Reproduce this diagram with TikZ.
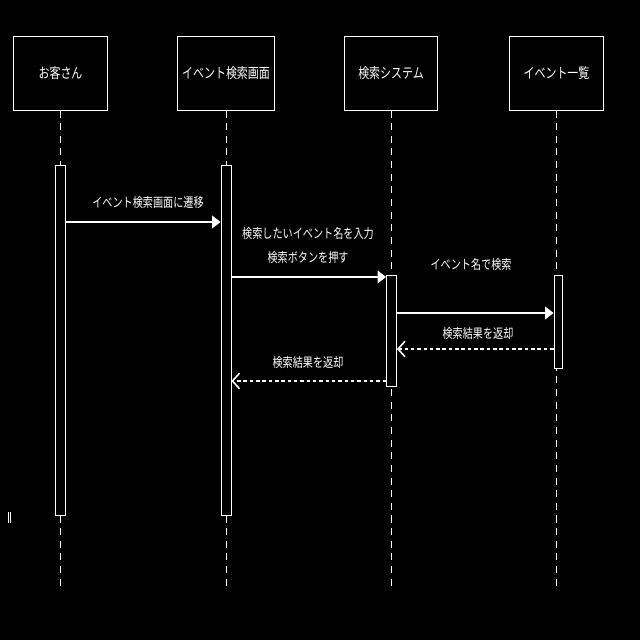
\documentclass[tikz,border=0pt]{standalone}
\usepackage{fontspec}
\usepackage{graphicx}
\newfontfamily\cjk{Noto Sans CJK JP}
\usetikzlibrary{arrows.meta}
\newcommand{\tall}[1]{\scalebox{1}[1.3]{#1}}

\begin{document}
\begin{tikzpicture}[x=0.025cm,y=0.025cm,
    actor/.style={draw=white,line width=0.7pt,minimum width=2.325cm,minimum height=1.825cm,text=white,font=\cjk\fontsize{7.8}{9}\selectfont},
    life/.style={draw=white,line width=0.6pt,dash pattern=on 5pt off 4pt},
    act/.style={draw=white,fill=black,line width=0.6pt,minimum width=0.25cm,inner sep=0pt},
    msg/.style={draw=white,line width=1.1pt,-{Triangle[length=6pt,width=9pt]}},
    reply/.style={draw=white,line width=1.1pt,dash pattern=on 2.5pt off 2pt,-{Straight Barb[length=5pt,width=11pt]}},
    lbl/.style={text=white,font=\cjk\fontsize{7.2}{17.5}\selectfont,align=center,inner sep=0pt}]
    \fill[black] (0,0) rectangle (640,640);
    % Actors
    \node[actor] (cust) at (60.5,566.5) {\tall{お客さん}};
    \node[actor] (screen) at (226,566.5) {\tall{イベント検索画面}};
    \node[actor] (sys) at (391,566.5) {\tall{検索システム}};
    \node[actor] (list) at (556.5,566.5) {\tall{イベント一覧}};
    % Lifelines
    \coordinate (end) at (0,52);
    \foreach \a in {cust,screen,sys,list}
        \draw[life] (\a.south) -- (\a.south |- end);
    % Activations
    \node[act,minimum height=8.75cm] (act1) at (60,300) {};
    \node[act,minimum height=8.75cm] (act2) at (226,300) {};
    \node[act,minimum height=2.775cm] (act3) at (391.5,309.5) {};
    \node[act,minimum width=0.2cm,minimum height=2.325cm] (act4) at (558,318.5) {};
    % Messages
    \coordinate (m1) at (0,418);
    \coordinate (m2) at (0,363);
    \coordinate (m3) at (0,327);
    \coordinate (m4) at (0,291);
    \coordinate (m5) at (0,259);
    \draw[msg] (act1.east |- m1) -- (act2.west |- m1);
    \node[lbl] (l1) at (148,437) {\tall{イベント検索画面に遷移}};
    \draw[msg] (act2.east |- m2) -- (act3.west |- m2);
    \node[lbl] (l2) at (308,394.5) {\tall{検索したいイベント名を入力}\\\tall{検索ボタンを押す}};
    \draw[msg] (act3.east |- m3) -- (act4.west |- m3);
    \node[lbl] (l3) at (471,375) {\tall{イベント名で検索}};
    \draw[reply] (act4.west |- m4) -- (act3.east |- m4);
    \node[lbl] (l4) at (478,306) {\tall{検索結果を返却}};
    \draw[reply] (act3.west |- m5) -- (act2.east |- m5);
    \node[lbl] (l5) at (308,277) {\tall{検索結果を返却}};
    % stray mark
    \draw[white,line width=0.5pt] (8,117) -- (8,128) (10,117) -- (10,128);
\end{tikzpicture}
\end{document}
